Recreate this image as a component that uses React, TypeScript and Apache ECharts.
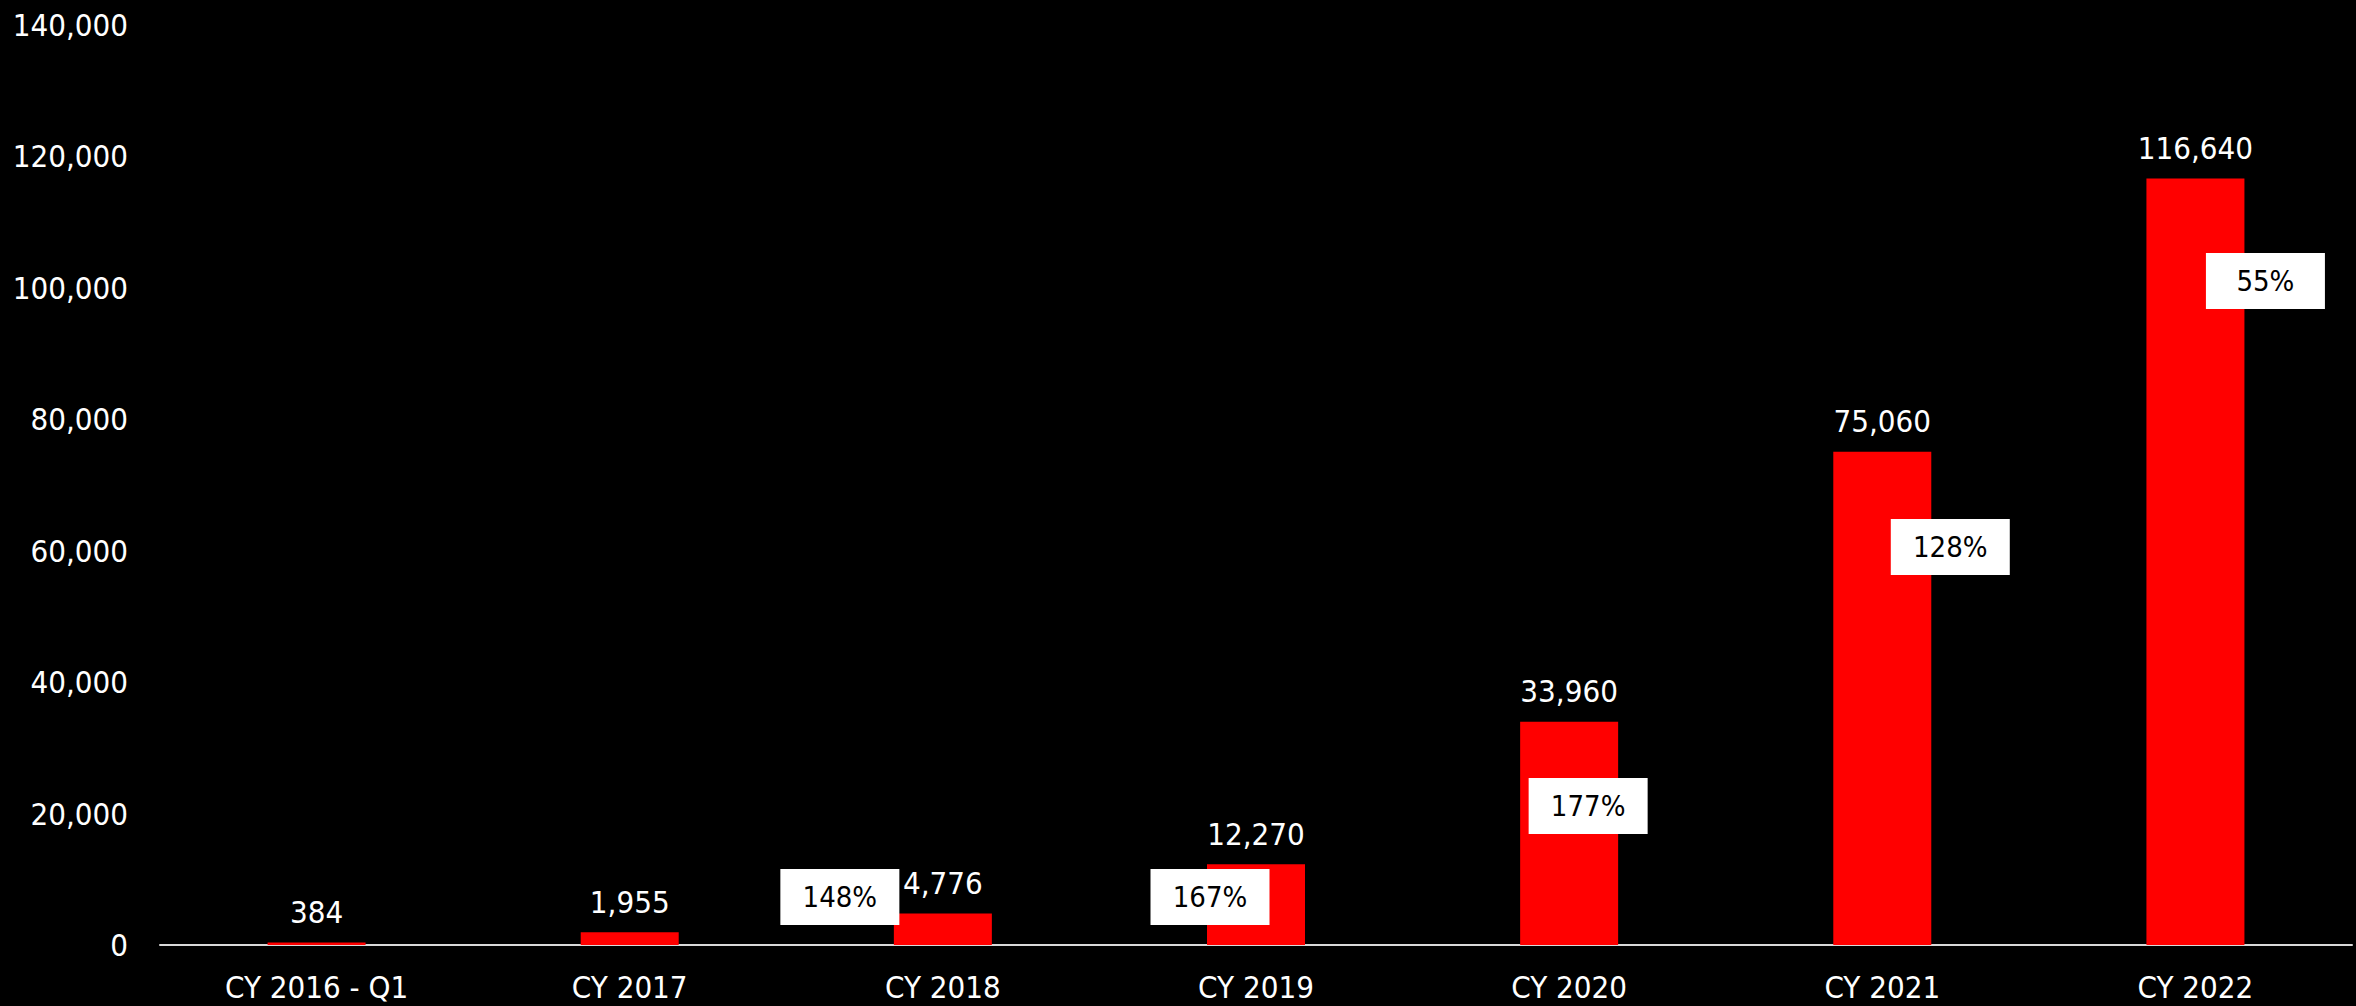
import React, { useEffect, useRef } from "react";
import * as echarts from "echarts";

const categories = ["CY 2016 - Q1", "CY 2017", "CY 2018", "CY 2019", "CY 2020", "CY 2021", "CY 2022"];
const volumes = [384, 1955, 4776, 12270, 33960, 75060, 116640];
const growthLabels = ["", "", "148%", "167%", "177%", "128%", "55%"];
// anchor of each growth box in value units (vertical) and pixel shift (horizontal)
const growthBoxY = [null, null, 7300, 7300, 21150, 60550, 101050];
const growthBoxDx = [0, 0, -103, -46, 19, 68, 70];
const yTicks = { min: 0, max: 140000, interval: 20000 };

const FONT = "'DejaVu Sans Condensed', 'Liberation Sans Narrow', 'Roboto', sans-serif";
const fmt = (v: number) => Math.round(v).toLocaleString("en-US");

export default function App() {
  const ref = useRef<HTMLDivElement>(null);
  useEffect(() => {
    document.body.style.margin = "0";
    document.body.style.background = "#000";
    if (!ref.current) return;
    const chart = echarts.init(ref.current, null, { renderer: "svg" });
    const growthData = categories
      .map((c, i) =>
        growthBoxY[i] == null
          ? null
          : {
              value: [i, growthBoxY[i]],
              label: {
                formatter: growthLabels[i],
                offset: [growthBoxDx[i], 0],
              },
            }
      )
      .filter((d) => d !== null);
    chart.setOption({
      animation: false,
      backgroundColor: "#000",
      grid: { left: 160, right: 4, top: 25, bottom: 61, containLabel: false },
      xAxis: {
        type: "category",
        data: categories,
        axisLine: { show: true, lineStyle: { color: "#d9d9d9", width: 2 } },
        axisTick: { show: false },
        axisLabel: { color: "#fff", fontSize: 31, fontFamily: FONT, margin: 26 },
      },
      yAxis: {
        type: "value",
        min: yTicks.min,
        max: yTicks.max,
        interval: yTicks.interval,
        splitLine: { show: false },
        axisLine: { show: false },
        axisTick: { show: false },
        axisLabel: {
          color: "#fff",
          fontSize: 31,
          fontFamily: FONT,
          margin: 32,
          formatter: (v: number) => fmt(v),
        },
      },
      series: [
        {
          type: "bar",
          data: volumes,
          barWidth: 98,
          itemStyle: { color: "#ff0000" },
          label: {
            show: true,
            position: "top",
            distance: 15,
            color: "#fff",
            fontSize: 31,
            fontFamily: FONT,
            formatter: (p: any) => fmt(p.value),
          },
          z: 2,
        },
        {
          type: "scatter",
          data: growthData,
          symbolSize: 1,
          itemStyle: { color: "rgba(0,0,0,0)", opacity: 1 },
          silent: true,
          z: 5,
          label: {
            show: true,
            position: "inside",
            color: "#000",
            opacity: 1,
            fontSize: 29,
            fontFamily: FONT,
            backgroundColor: "#fff",
            width: 119,
            height: 56,
            lineHeight: 56,
            align: "center",
            verticalAlign: "middle",
          },
        },
      ],
    });
    return () => chart.dispose();
  }, []);
  return <div ref={ref} style={{ width: 2356, height: 1006, background: "#000" }} />;
}
